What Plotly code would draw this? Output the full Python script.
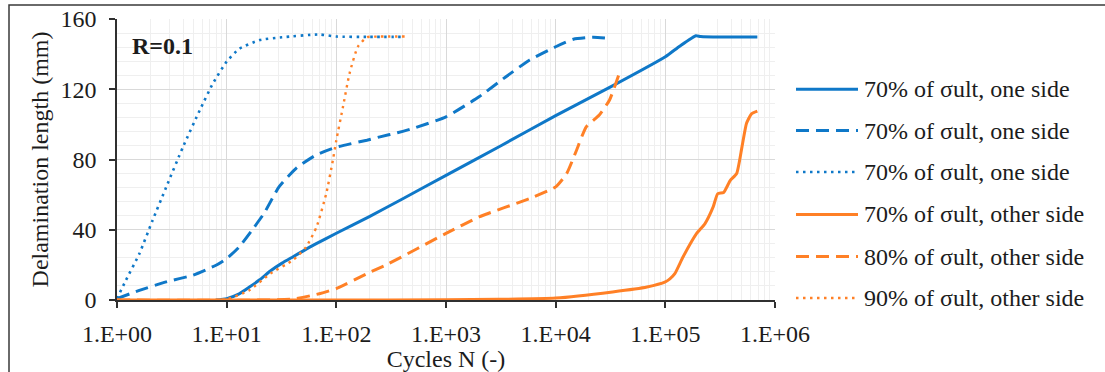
import plotly.graph_objects as go

# ---- data: cycles N vs delamination length (mm) ----
one70_N = [8, 10, 13, 16, 20, 25, 32, 40, 50, 63, 100, 200, 400, 1000, 3200, 10000,
           32000, 100000, 135000, 190000, 210000, 320000, 690000]
one70_y = [0, 0.8, 3.5, 7.2, 11.5, 16.5, 21, 24.5, 28, 31.5, 38, 47.5, 57.5, 71, 88, 105,
           121.5, 138.5, 144.5, 150.5, 150, 149.7, 149.7]

one70b_N = [1, 1.6, 2.8, 4.9, 8, 10, 13, 17, 22, 30, 43, 65, 100, 190, 250, 360, 500,
            1000, 2000, 3500, 5800, 10000, 14500, 22000, 31000]
one70b_y = [0.8, 5.5, 10.3, 14.1, 19.8, 23.6, 30.2, 39.7, 49.5, 64.4, 75, 82.5, 87, 91,
            92.9, 95.2, 97.7, 104.3, 115.7, 127, 136.7, 144.2, 148.5, 149.6, 149]

one70c_N = [1, 1.2, 1.6, 2.1, 2.8, 4, 5.7, 7.5, 10, 13, 20, 32, 70, 100, 200, 420]
one70c_y = [0.8, 11, 26.4, 45, 64, 87.2, 108.2, 123.4, 135.7, 143, 148, 149.6, 151.2,
            150, 149.8, 149.8]

oth70_N = [1, 100, 1000, 3000, 10000, 33000, 68000, 100000, 110000, 122000, 145000,
           193000, 230000, 273000, 300000, 340000, 390000, 447000, 500000, 550000,
           610000, 690000]
oth70_y = [0, 0, 0.1, 0.4, 1.1, 4.6, 7.4, 10.3, 12, 15, 24.5, 37.9, 43.5, 53, 60.5,
           61.2, 68, 72, 87.2, 100.6, 106, 107.6]

oth80_N = [1, 40, 70, 100, 190, 300, 1000, 2000, 5800, 10000, 12600, 15500, 19000,
           25000, 31000, 38500]
oth80_y = [0, 0.5, 3.6, 6.5, 15, 20.7, 37.9, 47.3, 57.8, 64.4, 72, 85.3, 98.6, 105.3,
           113.9, 130]

oth90_N = [1, 10, 16, 25, 40, 53, 66, 81, 93, 100, 115, 132, 157, 190, 250, 420]
oth90_y = [0, 0.5, 5.5, 15, 22.6, 30.2, 41.6, 60.7, 79.6, 91, 110, 129, 144.2, 149.6,
           150, 150]

names = ["70% of σult, one side", "70% of σult, one side", "70% of σult, one side",
         "70% of σult, other side", "80% of σult, other side", "90% of σult, other side"]

x_tickvals = [1, 10, 100, 1000, 10000, 100000, 1000000]
x_ticktext = ["1.E+00", "1.E+01", "1.E+02", "1.E+03", "1.E+04", "1.E+05", "1.E+06"]
y_tickvals = [0, 40, 80, 120, 160]

BLUE = "#0F78C8"
ORANGE = "#FF8026"
FONT = "Liberation Serif"
FS = 24
TXT = "#1c1c1c"
DASH = "13px,7px"
DOT = "2.5px,4.5px"

series = [
    (one70_N, one70_y, BLUE, "solid", 3),
    (one70b_N, one70b_y, BLUE, DASH, 3),
    (one70c_N, one70c_y, BLUE, DOT, 2.6),
    (oth70_N, oth70_y, ORANGE, "solid", 3),
    (oth80_N, oth80_y, ORANGE, DASH, 3),
    (oth90_N, oth90_y, ORANGE, DOT, 2.4),
]

W, H = 1105, 372
ML, MR, MT, MB = 117, 330, 19, 72
PW, PH = W - ML - MR, H - MT - MB


def px_x(p):
    return (p - ML) / PW


def px_y(p):
    return (H - MB - p) / PH


fig = go.Figure()
for (xs, ys, col, dash, w), nm in zip(series, names):
    fig.add_trace(go.Scatter(
        x=xs, y=ys, mode="lines", name=nm, showlegend=False,
        line=dict(color=col, dash=dash, width=w, shape="spline", smoothing=0.5),
    ))

# legend drawn as line samples + labels beside the plot
row_y = [89.3, 130.5, 172, 214.5, 256.5, 298]
shapes = []
annotations = []
for (xs, ys, col, dash, w), nm, ry in zip(series, names, row_y):
    shapes.append(dict(type="line", xref="paper", yref="paper",
                       x0=px_x(796), x1=px_x(858), y0=px_y(ry), y1=px_y(ry),
                       line=dict(color=col, dash=dash, width=w)))
    annotations.append(dict(xref="paper", yref="paper", x=px_x(862), y=px_y(ry),
                            text=nm, showarrow=False, xanchor="left", yanchor="middle",
                            font=dict(family=FONT, size=FS, color=TXT)))

# outer frame of the chart
shapes.append(dict(type="rect", xref="paper", yref="paper",
                   x0=px_x(9), x1=px_x(1130), y0=px_y(5), y1=px_y(400),
                   line=dict(color="#3a3a3a", width=1.5), fillcolor="rgba(0,0,0,0)"))

annotations.append(dict(xref="paper", yref="paper", x=px_x(162), y=px_y(46.5),
                        text="<b>R=0.1</b>", showarrow=False, xanchor="center",
                        yanchor="middle", font=dict(family=FONT, size=FS, color=TXT)))

fig.update_layout(
    width=W, height=H,
    margin=dict(l=ML, r=MR, t=MT, b=MB, autoexpand=False),
    paper_bgcolor="white", plot_bgcolor="white",
    font=dict(family=FONT, size=FS, color=TXT),
    shapes=shapes, annotations=annotations,
    showlegend=False,
)

fig.update_xaxes(
    type="log", range=[0, 6], automargin=False,
    tickvals=x_tickvals, ticktext=x_ticktext,
    tickfont=dict(family=FONT, size=FS, color=TXT),
    ticks="outside", ticklen=6, tickcolor="#303030", tickwidth=1.5,
    ticklabelstandoff=5,
    showline=True, linecolor="#303030", linewidth=1.5,
    showgrid=True, gridcolor="#D9D9D9", gridwidth=1,
    minor=dict(showgrid=True, gridcolor="#EFEFEF", gridwidth=1, dtick="D1"),
    zeroline=False,
    title=dict(text="Cycles N (-)", font=dict(family=FONT, size=FS, color=TXT), standoff=9),
)
fig.update_yaxes(
    range=[0, 160], automargin=False,
    tickvals=y_tickvals,
    tickfont=dict(family=FONT, size=FS, color=TXT),
    ticks="outside", ticklen=6, tickcolor="#303030", tickwidth=1.5,
    ticklabelstandoff=8,
    showline=True, linecolor="#303030", linewidth=1.5,
    showgrid=True, gridcolor="#D9D9D9", gridwidth=1,
    minor=dict(showgrid=True, gridcolor="#EFEFEF", gridwidth=1, dtick=8),
    zeroline=False,
    title=dict(text="Delamination length (mm)", font=dict(family=FONT, size=FS, color=TXT),
               standoff=5),
)

fig.write_html("out.html")
